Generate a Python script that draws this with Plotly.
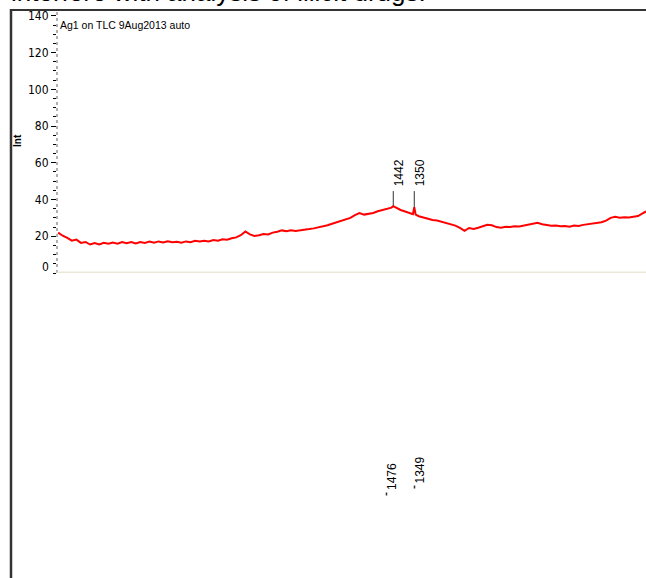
import plotly.graph_objects as go

W, H = 646, 578

# ---- data (Raman shift, cm-1, and intensity) ----
wavenumber = [2910, 2890, 2870, 2850, 2830, 2810, 2790, 2770, 2750, 2730, 2710, 2690, 2670, 2650,
              2630, 2610, 2590, 2570, 2550, 2530, 2510, 2490, 2470, 2450, 2430, 2410, 2390, 2370,
              2350, 2330, 2310, 2290, 2270, 2250, 2230, 2210, 2190, 2170, 2150, 2130, 2110, 2090,
              2070, 2050, 2030, 2010, 1990, 1970, 1950, 1930, 1910, 1890, 1870, 1850, 1830, 1810,
              1790, 1770, 1750, 1730, 1710, 1690, 1670, 1650, 1630, 1610, 1590, 1570, 1550, 1530,
              1510, 1490, 1470, 1450, 1442, 1430, 1410, 1390, 1370, 1356, 1350, 1344, 1330, 1310,
              1290, 1270, 1250, 1230, 1210, 1190, 1170, 1150, 1130, 1110, 1090, 1070, 1050, 1030,
              1010, 990, 970, 950, 930, 910, 890, 870, 850, 830, 810, 790, 770, 750, 730, 710,
              690, 670, 650, 630, 610, 590, 570, 550, 530, 510, 490, 470, 450, 430, 410, 390,
              370, 350, 335]
intensity = [22.0, 20.3, 19.1, 17.6, 18.2, 16.4, 16.9, 15.5, 16.3, 15.6, 16.4, 15.9, 16.6, 16.0,
             16.9, 16.2, 16.8, 16.1, 16.9, 16.4, 17.1, 16.5, 17.2, 16.6, 17.3, 16.7, 17.0, 16.5,
             17.2, 16.8, 17.5, 17.1, 17.6, 17.2, 17.9, 17.6, 18.4, 18.1, 18.9, 19.4, 20.6, 22.6,
             21.0, 20.2, 20.6, 21.2, 21.0, 22.0, 22.5, 23.2, 22.8, 23.3, 22.9, 23.1, 23.6, 23.9,
             24.3, 24.8, 25.3, 26.0, 26.8, 27.6, 28.1, 29.2, 30.0, 31.5, 32.6, 31.8, 32.2, 32.7,
             33.6, 34.2, 34.8, 35.6, 36.4, 35.5, 34.3, 33.5, 32.6, 32.0, 35.8, 31.8, 30.9, 30.2,
             29.6, 28.9, 28.6, 27.9, 27.4, 26.5, 25.8, 24.6, 23.0, 24.5, 24.0, 24.6, 25.4, 26.3,
             26.0, 25.0, 24.6, 25.2, 25.0, 25.5, 25.3, 25.9, 26.2, 26.8, 27.3, 26.6, 26.2, 25.7,
             25.9, 25.4, 25.6, 25.2, 25.8, 25.6, 26.2, 26.5, 26.9, 27.1, 27.6, 28.5, 30.0, 30.6,
             30.1, 30.4, 30.2, 30.6, 31.0, 32.4, 33.5]

peak_labels = [1442, 1350]
peak_tops = [36.6, 35.8]
lower_labels = [1476, 1349]
y_tick_values = [20, 40, 60, 80, 100, 120, 140]
y_tick_text = ["20", "40", "60", "80", "100", "120", "140"]
x_range = [2915, 335]
y_range = [0, 143.2]

title_text = "interfere with analysis of illicit drugs."
sample_text = "Ag1 on TLC 9Aug2013 auto"

# ---- helpers (pixel -> paper) ----
def px(x):
    return x / W

def py(y):
    return 1 - y / H

narrow = "DejaVu Sans Condensed, Liberation Sans Narrow, Arial Narrow, sans-serif"
arial = "Liberation Sans, Arial, sans-serif"

fig = go.Figure()
fig.add_trace(go.Scatter(x=wavenumber, y=intensity, mode="lines",
                         line=dict(color="#ff0000", width=2), hoverinfo="skip",
                         showlegend=False))

shapes = []
# page borders
shapes.append(dict(type="line", xref="paper", yref="paper", x0=px(10), x1=px(W), y0=py(10), y1=py(10),
                   line=dict(color="#333333", width=2)))
shapes.append(dict(type="line", xref="paper", yref="paper", x0=px(11), x1=px(11), y0=py(9), y1=py(H),
                   line=dict(color="#333333", width=2.5)))
# dotted y axis line
shapes.append(dict(type="line", xref="paper", yref="paper", x0=px(57), x1=px(57), y0=py(12), y1=py(273),
                   line=dict(color="#b0b0b0", width=2, dash="dot")))
# zero baseline (beige)
shapes.append(dict(type="line", xref="paper", yref="y", x0=px(57), x1=1, y0=0, y1=0,
                   line=dict(color="#ebe7d8", width=3)))
# peak marker lines
for wn, top in zip(peak_labels, peak_tops):
    shapes.append(dict(type="line", xref="x", yref="y", x0=wn, x1=wn, y0=top, y1=44.6,
                       line=dict(color="#333333", width=1)))
# small tick dots below
for xx, yy in [(386.5, 494), (414.5, 487)]:
    shapes.append(dict(type="line", xref="paper", yref="paper", x0=px(xx), x1=px(xx),
                       y0=py(yy - 1.5), y1=py(yy + 1.5), line=dict(color="#333333", width=1.5)))

annotations = []
annotations.append(dict(text=title_text, xref="paper", yref="paper", x=px(9), y=py(9.5),
                        xanchor="left", yanchor="bottom", showarrow=False,
                        font=dict(family=arial, size=26, color="#000000")))
annotations.append(dict(text=sample_text, xref="paper", yref="paper", x=px(58), y=py(25),
                        xanchor="left", yanchor="middle", showarrow=False,
                        font=dict(family=arial, size=10.5, color="#000000")))
annotations.append(dict(text="<b>Int</b>", xref="paper", yref="paper", x=px(18), y=py(141),
                        xanchor="center", yanchor="middle", showarrow=False, textangle=-90,
                        font=dict(family=arial, size=10, color="#000000")))
annotations.append(dict(text="0", xref="paper", yref="paper", x=px(51), y=py(267),
                        xanchor="right", yanchor="middle", showarrow=False,
                        font=dict(family=narrow, size=12, color="#000000")))
for wn in peak_labels:
    annotations.append(dict(text=str(wn), xref="x", yref="y", x=wn, y=46.0, xshift=6,
                            xanchor="center", yanchor="bottom", showarrow=False, textangle=-90,
                            font=dict(family=arial, size=12, color="#000000")))
for lab, xx, yy in zip(lower_labels, [391.5, 419.5], [476.5, 470]):
    annotations.append(dict(text=str(lab), xref="paper", yref="paper", x=px(xx), y=py(yy),
                            xanchor="center", yanchor="middle", showarrow=False, textangle=-90,
                            font=dict(family=arial, size=12, color="#000000")))

fig.update_layout(
    width=W, height=H, autosize=False,
    margin=dict(l=0, r=0, t=0, b=0),
    paper_bgcolor="white", plot_bgcolor="white",
    showlegend=False,
    xaxis=dict(domain=[px(57), 1], range=x_range, visible=False, showgrid=False, zeroline=False),
    yaxis=dict(domain=[py(273), py(10)], range=y_range, showgrid=False, zeroline=False,
               showline=False, tickmode="array", tickvals=y_tick_values, ticktext=y_tick_text,
               ticks="outside", ticklen=5, tickcolor="#000000", tickwidth=1,
               tickfont=dict(family=narrow, size=12, color="#000000"),
               minor=dict(tickmode="linear", tick0=0, dtick=5, ticks="outside", ticklen=3,
                          tickcolor="#000000", tickwidth=1)),
    shapes=shapes,
    annotations=annotations,
)

fig.write_html("out.html", config={"displayModeBar": False},
               post_script="document.body.style.margin='0px';document.body.style.overflow='hidden';")
